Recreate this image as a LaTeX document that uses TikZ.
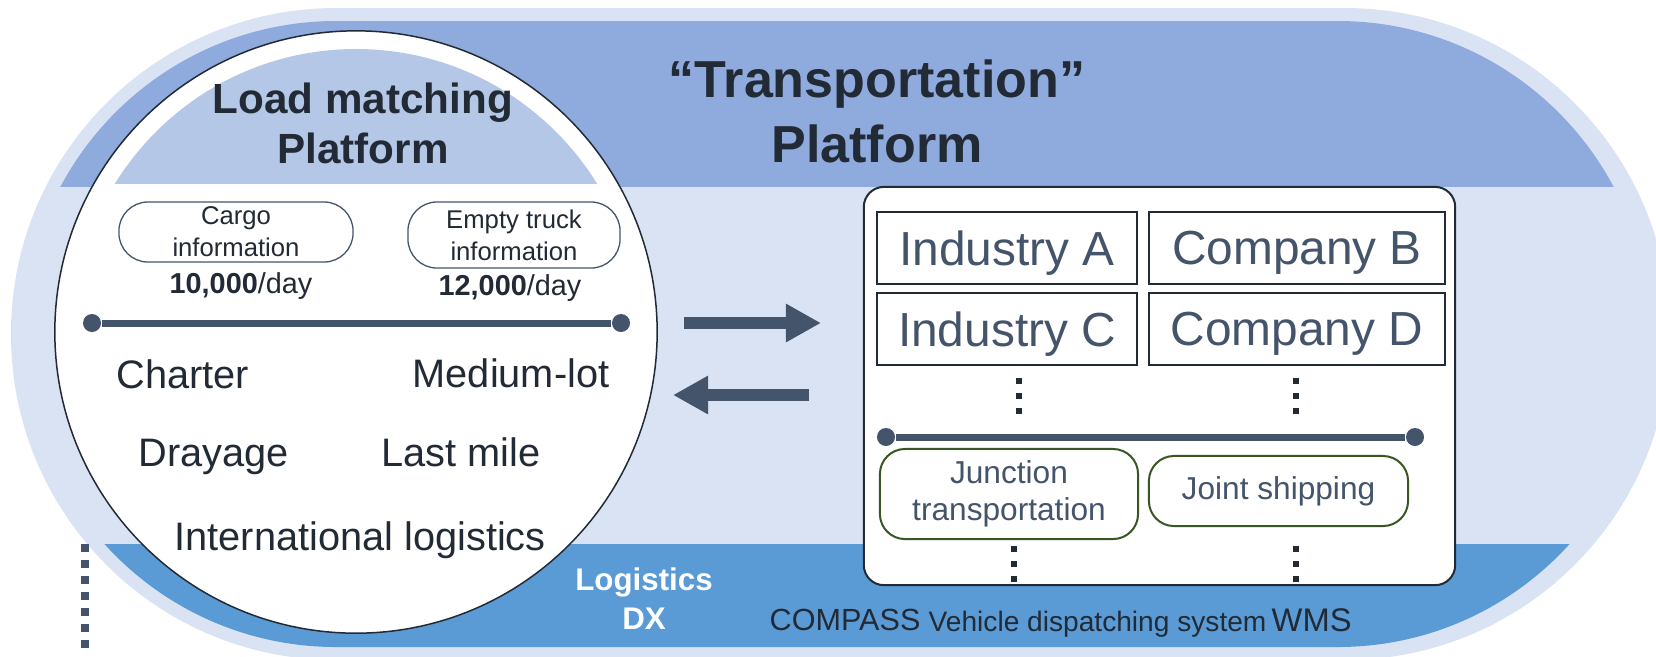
\documentclass[tikz,border=0pt]{standalone}
\usepackage{fontspec}
\setmainfont{Liberation Sans}
\usetikzlibrary{arrows.meta}

\definecolor{paleblue}{HTML}{DAE3F3}
\definecolor{bandblue}{HTML}{8FAADC}
\definecolor{capblue}{HTML}{B4C7E7}
\definecolor{dxblue}{HTML}{5B9BD5}
\definecolor{slate}{HTML}{44546A}
\definecolor{navy}{HTML}{222A35}
\definecolor{leaf}{HTML}{385723}

\tikzset{
  pill/.style={draw=slate, line width=0.013cm, fill=white, rounded corners=0.29cm,
    align=center, text=navy, font=\fontsize{7.3}{9.1}\selectfont, inner sep=0},
  orgbox/.style={draw=navy, line width=0.025cm, fill=white, text=slate,
    font=\fontsize{13.6}{16}\selectfont, minimum height=0.72cm, inner sep=0, text depth=0pt},
  modebox/.style={draw=leaf, line width=0.02cm, fill=white, rounded corners=0.25cm,
    align=center, text=slate, font=\fontsize{9}{10.5}\selectfont, inner sep=0},
  mode/.style={inner sep=0, text=navy, font=\fontsize{11.3}{13}\selectfont},
  dxtext/.style={inner sep=0, text=navy, anchor=base west},
  dot/.style={circle, fill=slate, inner sep=0, minimum size=0.18cm},
  bar/.style={slate, line width=0.07cm},
  vdots/.style={navy, line width=0.06cm, dash pattern=on 0.06cm off 0.09cm},
  bigarrow/.style={slate, line width=0.12cm, -{Triangle[length=3.5mm, width=3.6mm]}},
}

\begin{document}
\begin{tikzpicture}[x=0.01cm, y=-0.01cm]
\useasboundingbox (0,0) rectangle (1656,656);

% outer ring and the two bands
\fill[paleblue, rounded corners=3.25cm] (11,8) rectangle (1670,660);
\begin{scope}
  \clip[rounded corners=3.12cm] (24,21) rectangle (1650,647);
  \fill[bandblue] (0,0) rectangle (1700,187);
  \fill[dxblue] (0,544) rectangle (1700,700);
\end{scope}
\draw[slate, line width=0.087cm, dash pattern=on 0.077cm off 0.083cm] (85,544) -- (85,648);

% member panel
\node[draw=navy, line width=0.02cm, fill=white, rounded corners=0.2cm,
  minimum width=5.91cm, minimum height=3.98cm] (memberPanel) at (1159.5,386) {};
\node[orgbox, minimum width=2.6cm] (industryA) at (1007,248) {Industry A};
\node[orgbox, minimum width=2.96cm] (companyB) at (1297,248) {Company B};
\node[orgbox, minimum width=2.6cm] (industryC) at (1007,329) {Industry C};
\node[orgbox, minimum width=2.96cm] (companyD) at (1297,329) {Company D};
\draw[vdots] (1019,378) -- (1019,414);
\draw[vdots] (1296,378) -- (1296,414);
\node[dot] (panelBarL) at (886,437) {};
\node[dot] (panelBarR) at (1415,437) {};
\draw[bar] (panelBarL) -- (panelBarR);
\node[modebox, minimum width=2.58cm, minimum height=0.9cm] (junctionBox) at (1009,494) {Junction\\transportation};
\node[modebox, minimum width=2.59cm, minimum height=0.7cm] (jointBox) at (1278.5,491) {Joint shipping};
\draw[vdots] (1014,546) -- (1014,582);
\draw[vdots] (1296,546) -- (1296,582);

% load matching circle
\node[circle, draw=navy, fill=white, line width=0.015cm, minimum size=6.02cm, inner sep=0] (loadCircle) at (356,332) {};
\begin{scope}
  \clip (loadCircle.center) circle[radius=283];
  \fill[capblue] (0,0) rectangle (700,184);
\end{scope}
\node[align=center, text=navy, font=\bfseries\fontsize{12}{14.2}\selectfont] (loadTitle) at (363,123) {Load matching\\Platform};
\node[pill, minimum width=2.34cm, minimum height=0.6cm] (cargoInfo) at (236,232) {Cargo\\information};
\node[pill, minimum width=2.12cm, minimum height=0.66cm] (truckInfo) at (514,235) {Empty truck\\information};
\node[inner sep=0, anchor=base, text=navy, font=\fontsize{8.2}{10}\selectfont] (cargoCount) at (241,293) {\textbf{10,000}/day};
\node[inner sep=0, anchor=base, text=navy, font=\fontsize{8.2}{10}\selectfont] (truckCount) at (510,295) {\textbf{12,000}/day};
\node[dot] (loadBarL) at (92,323) {};
\node[dot] (loadBarR) at (621,323) {};
\draw[bar] (loadBarL) -- (loadBarR);
\node[mode, anchor=base west] (charter) at (116,388) {Charter};
\node[mode, anchor=base east] (mediumLot) at (610,387) {Medium-lot};
\node[mode, anchor=base west] (drayage) at (138,466) {Drayage};
\node[mode, anchor=base west] (lastMile) at (381,466) {Last mile};
\node[mode, anchor=base west] (intlLogistics) at (174,550) {International logistics};

% exchange arrows
\coordinate (toPanelA) at (684,323);
\coordinate (toPanelB) at (821,323);
\coordinate (toCircleA) at (809,395);
\coordinate (toCircleB) at (673,395);
\draw[bigarrow] (toPanelA) -- (toPanelB);
\draw[bigarrow] (toCircleA) -- (toCircleB);

% titles and DX row
\node[align=center, text=navy, font=\bfseries\fontsize{14.8}{18.5}\selectfont] (platformTitle) at (877,111.5) {“Transportation”\\Platform};
\node[align=center, text=white, inner sep=0, font=\bfseries\fontsize{8.9}{11.1}\selectfont] (dxTitle) at (644,599) {Logistics\\DX};
\node[dxtext, font=\fontsize{8.7}{10}\selectfont] (compass) at (769,630) {COMPASS};
\node[dxtext, font=\fontsize{8}{10}\selectfont] (dispatch) at (928,631) {Vehicle dispatching system};
\node[dxtext, font=\fontsize{9.3}{10}\selectfont] (wms) at (1271,631) {WMS};
\end{tikzpicture}
\end{document}
